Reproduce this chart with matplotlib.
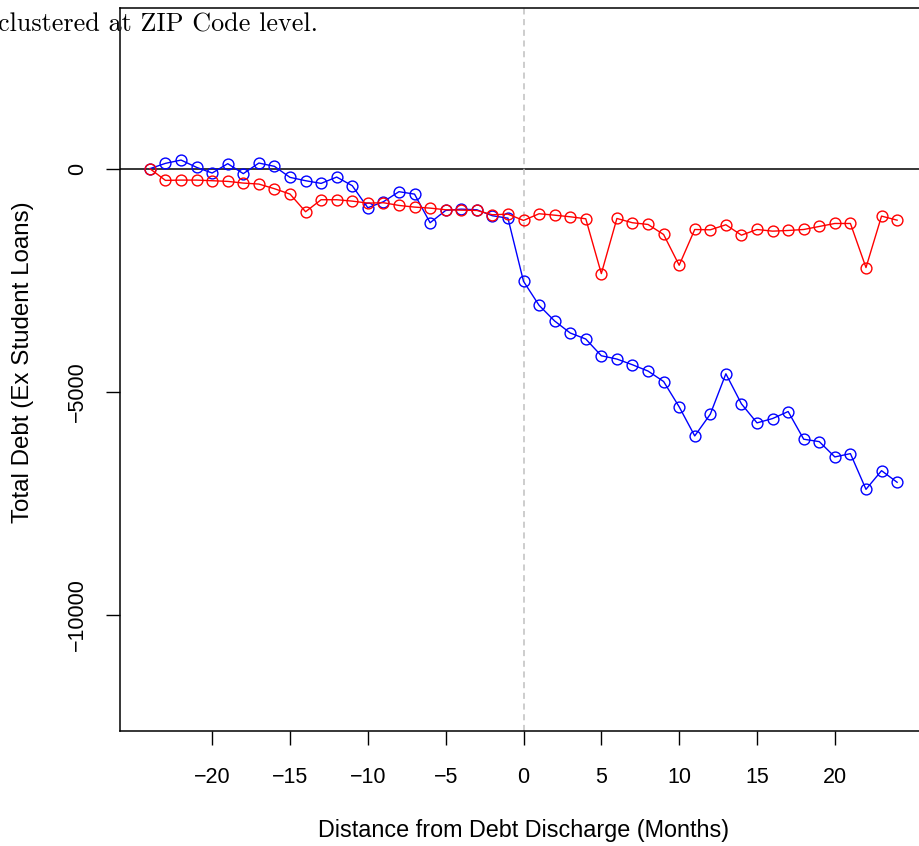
import matplotlib
matplotlib.use("Agg")
import matplotlib.pyplot as plt
import numpy as np

# Event time relative to debt discharge (months)
months = list(range(-24, 25))

# Total debt excluding student loans, treated group (blue)
treated = [0, 119, 193, 29, -98, 112, -112, 126, 52, -195, -270, -330, -188,
           -382, -876, -741, -516, -570, -1212, -936, -907, -921, -1055, -1109,
           -2524, -3062, -3413, -3682, -3817, -4192, -4266, -4394, -4535, -4769,
           -5337, -5988, -5501, -4596, -5270, -5696, -5599, -5442, -6062, -6116,
           -6459, -6385, -7185, -6767, -7027]

# Total debt excluding student loans, comparison group (red)
control = [0, -263, -256, -256, -270, -285, -323, -345, -449, -569, -965, -696,
           -696, -727, -772, -763, -824, -861, -884, -921, -929, -936, -1033,
           -1019, -1160, -1010, -1042, -1078, -1123, -2351, -1116, -1212, -1250,
           -1475, -2164, -1363, -1370, -1257, -1490, -1363, -1400, -1385, -1363,
           -1295, -1228, -1228, -2216, -1063, -1154]

x_ticks = [-20, -15, -10, -5, 0, 5, 10, 15, 20]
y_ticks = [-10000, -5000, 0]
y_range = (-12000, 3000)

plt.rcParams["font.family"] = ["Liberation Sans", "DejaVu Sans"]

W, H = 919, 846
fig = plt.figure(figsize=(W / 100, H / 100), dpi=100)

left, right, top, bottom = 120, 927, 8, 731
ax = fig.add_axes([left / W, 1 - bottom / H, (right - left) / W, (bottom - top) / H])

xr = months[-1] - months[0]
ax.set_xlim(months[0] - 0.04 * xr, months[-1] + 0.04 * xr)
yr = y_range[1] - y_range[0]
ax.set_ylim(y_range[0] - 0.04 * yr, y_range[1] + 0.04 * yr)

ax.axhline(0, color="black", lw=1.1, zorder=1)
ax.axvline(0, color="#c0c0c0", lw=1.1, ls=(0, (4, 3)), zorder=1)

ms = 7.8
ax.plot(months, treated, color="#0000FF", lw=1.0, marker="o", ms=ms,
        mfc="none", mec="#0000FF", mew=1.0, zorder=3)
ax.plot(months, control, color="#FF0000", lw=1.0, marker="o", ms=ms,
        mfc="none", mec="#FF0000", mew=1.0, zorder=4)

ax.set_xticks(x_ticks)
ax.set_xticklabels([str(v).replace("-", "\u2212") for v in x_ticks])
ax.set_yticks(y_ticks)
ax.set_yticklabels([str(v).replace("-", "\u2212") for v in y_ticks],
                   rotation=90, va="center")

ax.tick_params(axis="both", direction="out", length=10, width=1.0,
               labelsize=15.5, color="black")
ax.tick_params(axis="x", pad=16)
ax.tick_params(axis="y", pad=13)
for s in ax.spines.values():
    s.set_linewidth(1.1)

fig.text(524 / W, 1 - 830 / H, "Distance from Debt Discharge (Months)",
         ha="center", va="center", fontsize=16.8)
fig.text(23 / W, 1 - 362 / H, "Total Debt (Ex Student Loans)",
         ha="center", va="center", rotation=90, fontsize=17.4)

fig.text(-2 / W, 1 - 32 / H, "clustered at ZIP Code level.",
         ha="left", va="baseline", fontsize=18.8, family="cmr10")

fig.savefig("out.png", dpi=100)
